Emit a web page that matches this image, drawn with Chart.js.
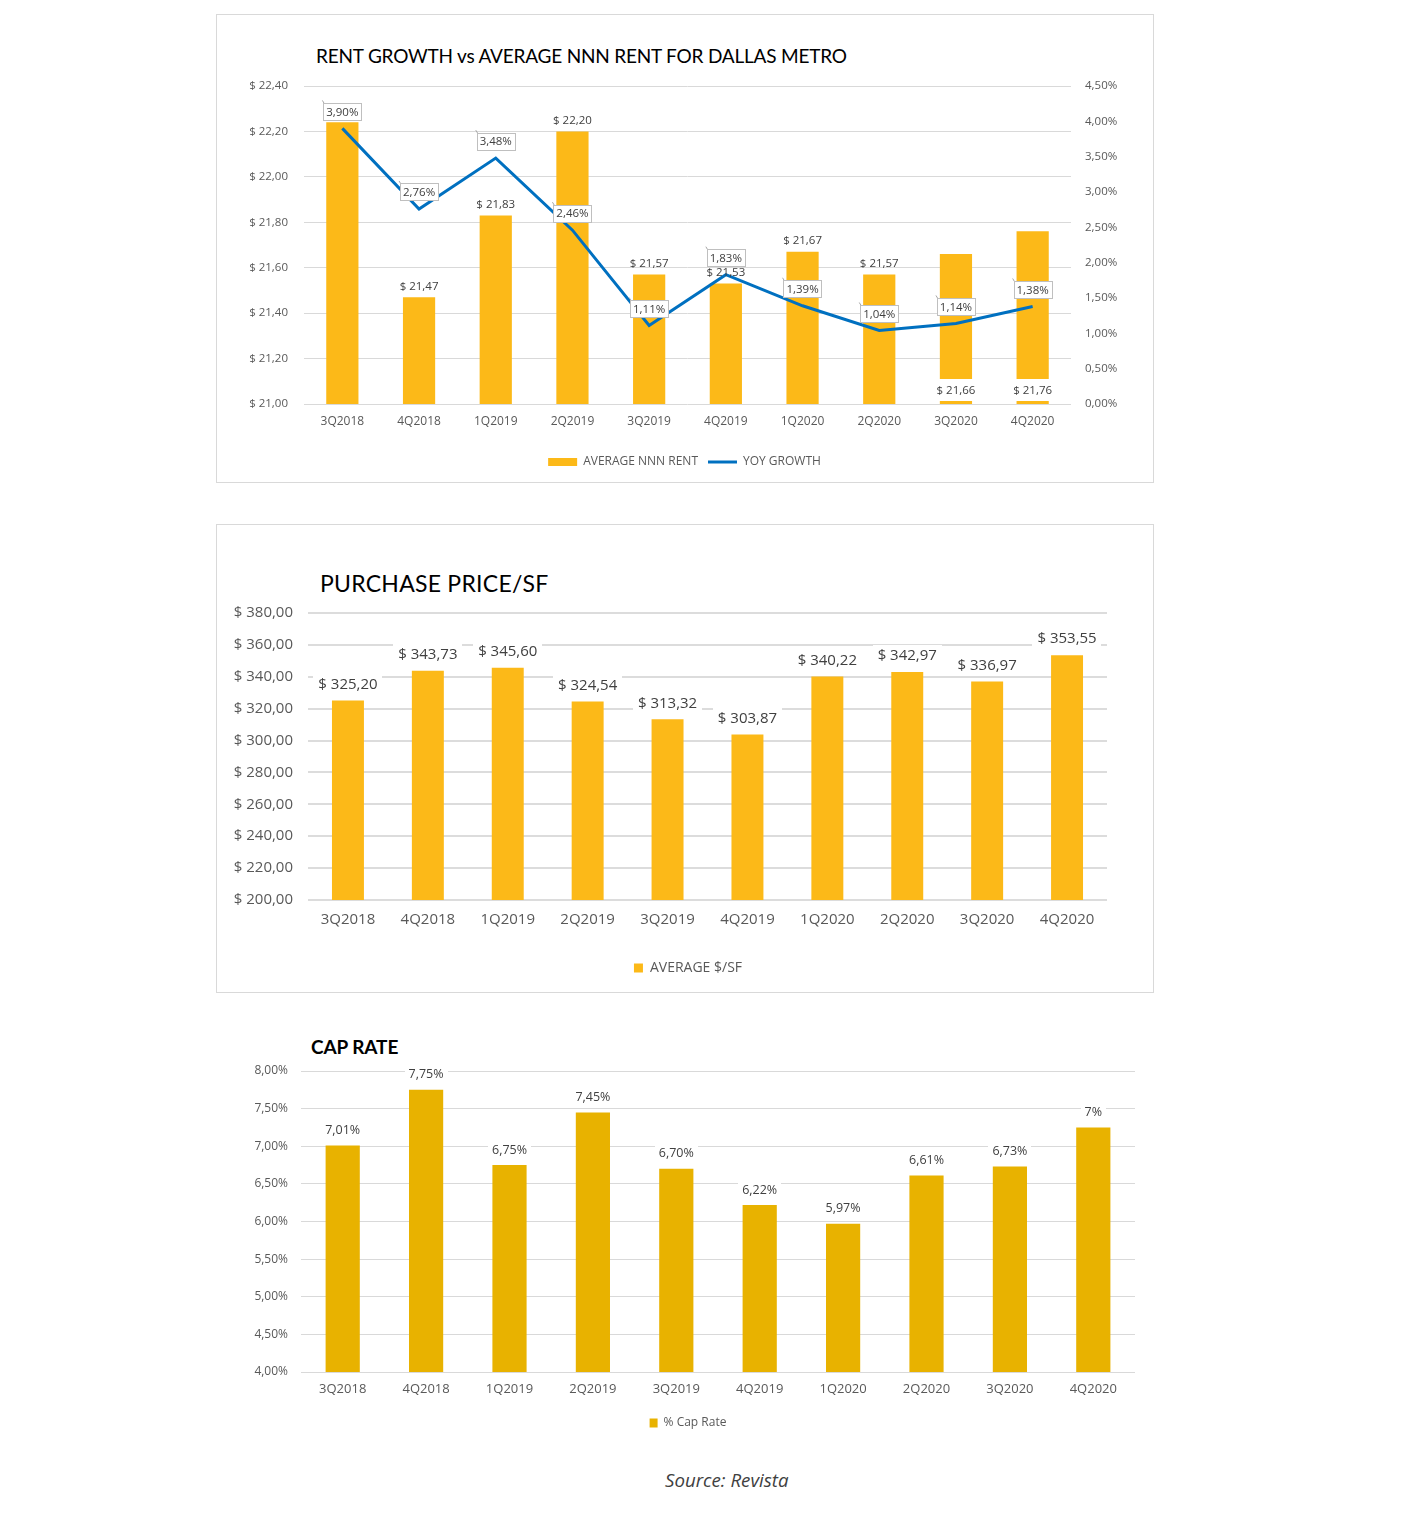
<!DOCTYPE html>
<html>
<head>
<meta charset="utf-8">
<script src="https://cdn.jsdelivr.net/npm/chart.js@4.4.1/dist/chart.umd.min.js"></script>
<style>
  html, body { margin: 0; padding: 0; background: #ffffff; }
  body { width: 1405px; height: 1514px; position: relative; overflow: hidden; font-family: 'Open Sans', sans-serif; }
  .frame { position: absolute; border: 1px solid #d9d9d9; box-sizing: border-box; }
  .title { position: absolute; white-space: nowrap; color: #000; line-height: 1; }
  canvas { position: absolute; }
</style>
</head>
<body>
<div class="frame" style="left:216px;top:14px;width:938px;height:469px"></div>
<div class="frame" style="left:216px;top:524px;width:938px;height:469px"></div>

<div class="title" id="t1" style="left:316px;top:46px;font-family:Lato,sans-serif;font-size:19px;letter-spacing:-0.2px;">RENT GROWTH vs AVERAGE NNN RENT FOR DALLAS METRO</div>
<div class="title" id="t2" style="left:320px;top:572px;font-family:Lato,sans-serif;font-size:23px;letter-spacing:0.25px;">PURCHASE PRICE/SF</div>
<div class="title" id="t3" style="left:311px;top:1037px;font-family:Lato,sans-serif;font-weight:bold;font-size:19px;letter-spacing:-0.1px;">CAP RATE</div>
<div class="title" id="src" style="left:665px;top:1471px;font-family:'Open Sans',sans-serif;font-style:italic;font-size:18.7px;color:#404040;">Source: Revista</div>

<canvas id="c1" width="935" height="466" style="left:217px;top:15px;"></canvas>
<canvas id="c2" width="935" height="466" style="left:217px;top:525px;"></canvas>
<canvas id="c3" width="937" height="430" style="left:216px;top:1020px;"></canvas>

<script>
// ---------- DATA ----------
const categories = ['3Q2018','4Q2018','1Q2019','2Q2019','3Q2019','4Q2019','1Q2020','2Q2020','3Q2020','4Q2020'];

const nnnRent   = [22.24, 21.47, 21.83, 22.20, 21.57, 21.53, 21.67, 21.57, 21.66, 21.76];
const yoyGrowth = [3.90, 2.76, 3.48, 2.46, 1.11, 1.83, 1.39, 1.04, 1.14, 1.38];

const pricePerSf = [325.20, 343.73, 345.60, 324.54, 313.32, 303.87, 340.22, 342.97, 336.97, 353.55];

const capRate       = [7.01, 7.75, 6.75, 7.45, 6.70, 6.22, 5.97, 6.61, 6.73, 7.25];
const capRateLabels = ['7,01%','7,75%','6,75%','7,45%','6,70%','6,22%','5,97%','6,61%','6,73%','7%'];

const rentTicks = { min: 21.0, max: 22.4, step: 0.2 };
const growthTicks = { min: 0, max: 4.5, step: 0.5 };
const priceTicks = { min: 200, max: 380, step: 20 };
const capTicks = { min: 4, max: 8, step: 0.5 };

// ---------- HELPERS ----------
const comma = (v, d) => v.toFixed(d).replace('.', ',');
const GOLD = '#FCB918';
const GOLD_DARK = '#E8B200';
const BLUE = '#0070C0';
const GRID = '#d9d9d9';
const TICK = '#595959';
const LABEL = '#404040';
Chart.defaults.font.family = "'Open Sans', sans-serif";
Chart.defaults.animation = false;

function drawTextBox(ctx, text, x, y, o) {
  ctx.font = o.font;
  const w = ctx.measureText(text).width;
  const bw = w + (o.padX || 4) * 2, bh = o.boxH || 18;
  if (o.bg) {
    ctx.fillStyle = o.bg;
    ctx.fillRect(Math.round(x - bw / 2), Math.round(y - bh / 2), Math.round(bw), bh);
  }
  if (o.border) {
    ctx.strokeStyle = o.border;
    ctx.lineWidth = 1;
    ctx.strokeRect(Math.round(x - bw / 2) + 0.5, Math.round(y - bh / 2) + 0.5, Math.round(bw), bh);
  }
  ctx.fillStyle = o.color || LABEL;
  ctx.textAlign = 'center';
  ctx.textBaseline = 'middle';
  ctx.fillText(text, x, y + 1);
}

// ---------- CHART 1 ----------
const baseLabelIdx1 = [8, 9];
const labels1 = {
  id: 'labels1',
  afterDatasetsDraw(chart) {
    const ctx = chart.ctx;
    ctx.save();
    const baseY = chart.scales.y.getPixelForValue(rentTicks.min);
    const bars = chart.getDatasetMeta(0).data;
    bars.forEach((b, i) => {
      const txt = '$ ' + comma(nnnRent[i], 2);
      if (baseLabelIdx1.includes(i)) {
        drawTextBox(ctx, txt, b.x, baseY - 14, { font: "11.5px 'Open Sans'", bg: '#ffffff', boxH: 22, padX: 3 });
      } else {
        drawTextBox(ctx, txt, b.x, b.y - 12, { font: "11.5px 'Open Sans'" });
      }
    });
    const pts = chart.getDatasetMeta(1).data;
    pts.forEach((p, i) => {
      const txt = comma(yoyGrowth[i], 2) + '%';
      ctx.strokeStyle = '#a6a6a6';
      ctx.lineWidth = 1;
      ctx.beginPath();
      ctx.moveTo(p.x - 20, p.y - 28);
      ctx.lineTo(p.x - 14, p.y - 18);
      ctx.stroke();
      drawTextBox(ctx, txt, p.x, p.y - 17, { font: "11.5px 'Open Sans'", bg: '#ffffff', border: '#bfbfbf', boxH: 17, padX: 3 });
    });
    ctx.restore();
  }
};

new Chart(document.getElementById('c1'), {
  data: {
    labels: categories,
    datasets: [
      { type: 'bar', label: 'AVERAGE NNN RENT', data: nnnRent, yAxisID: 'y', backgroundColor: GOLD,
        barPercentage: 0.42, categoryPercentage: 1, order: 1, pointStyle: 'rect' },
      { type: 'line', label: 'YOY GROWTH', data: yoyGrowth, yAxisID: 'y2', borderColor: BLUE, backgroundColor: BLUE,
        borderWidth: 3, pointRadius: 0, tension: 0, order: 0, pointStyle: 'line' }
    ]
  },
  options: {
    responsive: false,
    layout: { padding: { top: 71, left: 0, right: 0, bottom: 3 } },
    plugins: {
      tooltip: { enabled: false },
      legend: {
        position: 'bottom',
        labels: {
          usePointStyle: true, pointStyleWidth: 29, boxHeight: 8, padding: 10,
          color: TICK, font: { size: 12 },
          sort: (a, b) => a.datasetIndex - b.datasetIndex
        }
      }
    },
    scales: {
      x: {
        grid: { display: false }, border: { display: false },
        ticks: { color: TICK, font: { size: 12 }, padding: 2, maxRotation: 0 },
        afterFit: s => { s.height = 42; }
      },
      y: {
        position: 'left', min: rentTicks.min, max: rentTicks.max,
        grid: { color: GRID, lineWidth: 1, drawTicks: false }, border: { display: false },
        ticks: { stepSize: rentTicks.step, color: TICK, font: { size: 11.5 }, padding: 16,
                 callback: v => '$ ' + comma(v, 2) },
        afterFit: s => { s.width = 87; }
      },
      y2: {
        position: 'right', min: growthTicks.min, max: growthTicks.max,
        grid: { display: false, drawTicks: false }, border: { display: false },
        ticks: { stepSize: growthTicks.step, color: TICK, font: { size: 11.5 }, padding: 14,
                 callback: v => comma(v, 2) + '%' },
        afterFit: s => { s.width = 81; }
      }
    }
  },
  plugins: [labels1]
});

// ---------- CHART 2 ----------
const labels2 = {
  id: 'labels2',
  afterDatasetsDraw(chart) {
    const ctx = chart.ctx;
    ctx.save();
    chart.getDatasetMeta(0).data.forEach((b, i) => {
      drawTextBox(ctx, '$ ' + comma(pricePerSf[i], 2), b.x, b.y - 17,
        { font: "15px 'Open Sans'", bg: '#ffffff', boxH: 20, padX: 5 });
    });
    ctx.restore();
  }
};

new Chart(document.getElementById('c2'), {
  type: 'bar',
  data: {
    labels: categories,
    datasets: [
      { label: 'AVERAGE $/SF', data: pricePerSf, backgroundColor: GOLD, barPercentage: 0.40, categoryPercentage: 1 }
    ]
  },
  options: {
    responsive: false,
    layout: { padding: { top: 88, left: 7, right: 0, bottom: 6 } },
    plugins: {
      tooltip: { enabled: false },
      legend: {
        position: 'bottom',
        labels: { boxWidth: 9, boxHeight: 9, padding: 10, color: TICK, font: { size: 14 } }
      }
    },
    scales: {
      x: {
        grid: { display: false }, border: { display: false },
        ticks: { color: TICK, font: { size: 15 }, padding: 3, maxRotation: 0 },
        afterFit: s => { s.height = 51; }
      },
      y: {
        min: priceTicks.min, max: priceTicks.max,
        grid: { color: '#dcdcdc', lineWidth: 2, drawTicks: false }, border: { display: false },
        ticks: { stepSize: priceTicks.step, color: TICK, font: { size: 15 }, padding: 15,
                 callback: v => '$ ' + comma(v, 2) },
        afterFit: s => { s.width = 84; }
      },
      yPad: {
        position: 'right', min: priceTicks.min, max: priceTicks.max,
        grid: { display: false, drawTicks: false }, border: { display: false },
        ticks: { display: false },
        afterFit: s => { s.width = 45; }
      }
    }
  },
  plugins: [labels2]
});

// ---------- CHART 3 ----------
const labels3 = {
  id: 'labels3',
  afterDatasetsDraw(chart) {
    const ctx = chart.ctx;
    ctx.save();
    chart.getDatasetMeta(0).data.forEach((b, i) => {
      drawTextBox(ctx, capRateLabels[i], b.x, b.y - 16,
        { font: "12.5px 'Open Sans'", bg: '#ffffff', boxH: 18, padX: 4 });
    });
    ctx.restore();
  }
};

new Chart(document.getElementById('c3'), {
  type: 'bar',
  data: {
    labels: categories,
    datasets: [
      { label: '% Cap Rate', data: capRate, backgroundColor: GOLD_DARK, barPercentage: 0.41, categoryPercentage: 1 }
    ]
  },
  options: {
    responsive: false,
    layout: { padding: { top: 51, left: 25, right: 18, bottom: 11 } },
    plugins: {
      tooltip: { enabled: false },
      legend: {
        position: 'bottom',
        labels: { boxWidth: 8, boxHeight: 9, padding: 10, color: TICK, font: { size: 12 } }
      }
    },
    scales: {
      x: {
        grid: { display: false }, border: { display: false },
        ticks: { color: TICK, font: { size: 13 }, padding: 1, maxRotation: 0 },
        afterFit: s => { s.height = 35; }
      },
      y: {
        min: capTicks.min, max: capTicks.max,
        grid: { color: GRID, lineWidth: 1, drawTicks: false }, border: { display: false },
        ticks: { stepSize: capTicks.step, color: TICK, font: { size: 12 }, padding: 13,
                 callback: v => comma(v, 2) + '%' },
        afterFit: s => { s.width = 60; }
      }
    }
  },
  plugins: [labels3]
});
</script>
</body>
</html>
